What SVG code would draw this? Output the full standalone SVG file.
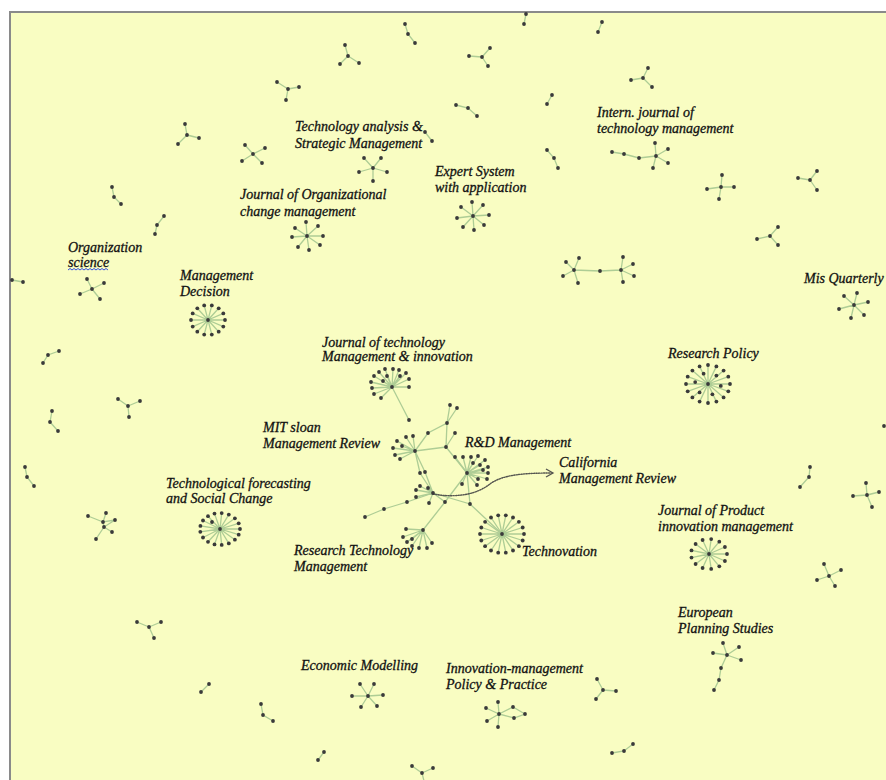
<svg xmlns="http://www.w3.org/2000/svg" xmlns:xlink="http://www.w3.org/1999/xlink" width="886" height="780" viewBox="0 0 886 780">
<style>
.e{stroke:#a6c891;stroke-width:1.3;fill:none;stroke-linecap:round;opacity:.9}
.n{fill:#3a3a3a}
.t{font-family:"Liberation Serif","Times New Roman",serif;font-style:italic;font-size:14px;fill:#111;stroke:#111;stroke-width:0.3}
.dot{stroke:#444;stroke-width:1.4;fill:none;stroke-dasharray:1.2 1.3;opacity:1}
</style>
<defs>
<circle id="d" r="1.9"/>
<marker id="arr" markerWidth="10" markerHeight="10" refX="8" refY="5" orient="auto" markerUnits="userSpaceOnUse"><path d="M1,1 L8,5 L1,9" fill="none" stroke="#444" stroke-width="1.3"/></marker>
</defs>
<rect width="886" height="780" fill="#fff"/>
<rect x="10" y="12" width="876" height="768" fill="#f9fdc2"/>
<path d="M10,780 V12 H886" fill="none" stroke="#8a8a8a" stroke-width="2"/>

<g id="connectors" class="e">
<path d="M288,89 L277,82 M288,89 L299,87 M288,89 L286,100"/>
<path d="M187,135 L185,124 M187,135 L199,138 M187,135 L178,144"/>
<path d="M253,154 L245,145 M253,154 L265,148 M253,154 L242,161 M253,154 L262,163"/>
<path d="M112,187 L114,197 L121,204"/>
<path d="M164,216 L157,225 L155,234"/>
<path d="M405,24 L408,34 L415,43"/>
<path d="M348,56 L345,45 M348,56 L340,64 M348,56 L359,63"/>
<path d="M482,57 L490,48 M482,57 L469,56 M482,57 L488,66"/>
<path d="M526,14 L524,24"/>
<path d="M456,105 L468,108 L477,116"/>
<path d="M552,95 L547,104"/>
<path d="M425,132 L432,141"/>
<path d="M547,150 L554,158 L558,168"/>
<path d="M373,168 L364,158 M373,168 L381,158 M373,168 L359,172 M373,168 L387,172 M373,168 L373,181"/>
<path d="M473,216 L472,202 M473,216 L483,205 M473,216 L461,207 M473,216 L489,215 M473,216 L457,218 M473,216 L484,225 M473,216 L463,227 M473,216 L474,230"/>
<path d="M307,236 L306,222 M307,236 L318,226 M307,236 L295,228 M307,236 L323,236 M307,236 L292,237 M307,236 L320,245 M307,236 L298,247 M307,236 L309,250"/>
<path d="M602,22 L598,32"/>
<path d="M643,78 L648,68 M643,78 L631,80 M643,78 L652,87"/>
<path d="M612,152 L624,154 L639,158 L656,156 M656,156 L655,143 M656,156 L668,149 M656,156 L668,163 M656,156 L653,168"/>
<path d="M721,187 L722,175 M721,187 L707,189 M721,187 L734,187 M721,187 L719,199"/>
<path d="M810,180 L817,171 M810,180 L798,178 M810,180 L817,190"/>
<path d="M770,236 L778,227 M770,236 L757,239 M770,236 L778,245"/>
<path d="M574,270 L579,258 M574,270 L566,262 M574,270 L563,276 M574,270 L578,283 M574,270 L600,271 L621,270 M621,270 L623,257 M621,270 L633,264 M621,270 L634,276 M621,270 L623,282"/>
<path d="M12,280 L23,282"/>
<path d="M92,289 L87,279 M92,289 L104,283 M92,289 L80,294 M92,289 L100,299"/>
<path d="M208,320 L225,320 M208,320 L223.3,326.6 M208,320 L218.7,331.7 M208,320 L211.8,334.6 M208,320 L204.2,334.6 M208,320 L197.3,331.7 M208,320 L192.7,326.6 M208,320 L191,320 M208,320 L192.7,313.4 M208,320 L197.3,308.3 M208,320 L204.2,305.4 M208,320 L211.8,305.4 M208,320 L218.7,308.3 M208,320 L223.3,313.4"/>
<path d="M59,351 L48,355 L43,363"/>
<path d="M128,406 L118,399 M128,406 L140,401 M128,406 L129,417"/>
<path d="M52,411 L50,422 L58,431"/>
<path d="M25,467 L27,477 L34,486"/>
<path d="M854,305 L844,296 M854,305 L857,293 M854,305 L868,302 M854,305 L839,309 M854,305 L864,315 M854,305 L851,318"/>
<path d="M708,384 L730,384 M708,384 L728.3,391.3 M708,384 L723.6,397.4 M708,384 L716.4,401.6 M708,384 L708,403 M708,384 L699.6,401.6 M708,384 L692.4,397.4 M708,384 L687.7,391.3 M708,384 L686,384 M708,384 L687.7,376.7 M708,384 L692.4,370.6 M708,384 L699.6,366.4 M708,384 L708,365 M708,384 L716.4,366.4 M708,384 L723.6,370.6 M708,384 L728.3,376.7"/>
<path d="M810,467 L809,477 L800,487"/>
<path d="M867,495 L866,483 M867,495 L879,492 M867,495 L853,496 M867,495 L872,507"/>
<path d="M88,516 L103,522 M106,513 L103,522 L115,520 L104,527 L103,522 M104,527 L112,532 M104,527 L96,539"/>
<path d="M220,529 L240,529 M220,529 L238.7,534.7 M220,529 L234.9,539.7 M220,529 L228.8,543.4 M220,529 L221.7,544.9 M220,529 L214.5,544.4 M220,529 L208,541.8 M220,529 L203,537.5 M220,529 L200.3,531.8 M220,529 L200.4,525.9 M220,529 L203,520.5 M220,529 L208,516.2 M220,529 L214.5,513.6 M220,529 L221.7,513.1 M220,529 L228.8,514.6 M220,529 L234.9,518.3 M220,529 L238.7,523.3"/>
<path d="M149,627 L137,622 M149,627 L161,622 M149,627 L154,638"/>
<path d="M209,684 L201,692"/>
<path d="M261,704 L263,715 L273,721"/>
<path d="M368,696 L360,684 M368,696 L374,684 M368,696 L352,696 M368,696 L383,695 M368,696 L361,707 M368,696 L377,706"/>
<path d="M499,714 L498,702 M499,714 L486,708 M499,714 L487,721 M499,714 L498,727 M499,714 L513,707 L525,714 L514,718 L499,714"/>
<path d="M324,752 L318,760"/>
<path d="M422,773 L412,766 M422,773 L433,768 M422,773 L424,781"/>
<path d="M603,690 L597,679 M603,690 L616,691 M603,690 L596,699"/>
<path d="M633,744 L624,751 L612,753"/>
<path d="M709,554 L727,554 M709,554 L724.9,561 M709,554 L719.3,566.3 M709,554 L711.2,568.9 M709,554 L702.6,568 M709,554 L695.6,564 M709,554 L691.5,557.6 M709,554 L691.5,550.4 M709,554 L695.6,544 M709,554 L702.6,540 M709,554 L711.2,539.1 M709,554 L719.3,541.7 M709,554 L724.9,547"/>
<path d="M829,576 L824,564 M829,576 L841,570 M829,576 L817,580 M829,576 L835,586"/>
<path d="M727,655 L723,643 M727,655 L739,647 M727,655 L713,653 M727,655 L741,660 M727,655 L721,668 L719,680 L714,690"/>
<path d="M392,387 L374,376 M392,387 L379,372 M392,387 L385,369 M392,387 L393,369 M392,387 L399,370 M392,387 L406,373 M392,387 L409,379 M392,387 L409,387 M392,387 L371,382 M392,387 L372,388 M392,387 L374,394 M392,387 L381,398 M392,387 L387,376 M392,387 L400,376 M392,387 L383,381 M392,387 L409,420"/>
<path d="M415,451 L397,441 M415,451 L406,437 M415,451 L413,436 M415,451 L393,448 M415,451 L395,455 M415,451 L400,459 M415,451 L402,446"/>
<path d="M415,451 L428,433 L447,423 L450,405 M447,423 L457,408 M447,423 L446,447 L455,433 M415,451 L446,447 L467,473"/>
<path d="M415,451 L420,473 L433,493 M415,451 L425,472 L433,493"/>
<path d="M467,473 L455,457 M467,473 L463,457 M467,473 L471,457 M467,473 L478,456 M467,473 L485,460 M467,473 L488,467 M467,473 L483,470 M467,473 L488,473 M467,473 L487,479 M467,473 L478,479 M467,473 L462,484 M467,473 L477,485 M467,473 L473,463 M467,473 L480,465"/>
<path d="M433,493 L420,486 M433,493 L416,490 M433,493 L416,497 M433,493 L429,503 M433,493 L428,488"/>
<path d="M433,493 L407,502 L384,509 L365,517"/>
<path d="M433,493 L445,502 M467,473 L445,502 L423,530 M433,493 L470,504 L502,534 M467,473 L470,504"/>
<path d="M423,530 L406,529 M423,530 L403,537 M423,530 L407,542 M423,530 L412,546 M423,530 L419,548 M423,530 L427,548 M423,530 L432,543 M423,530 L412,539"/>
<path d="M502,534 L524,534 M502,534 L522.7,540.5 M502,534 L518.9,546.2 M502,534 L513,550.5 M502,534 L505.8,552.7 M502,534 L498.2,552.7 M502,534 L491,550.5 M502,534 L485.1,546.2 M502,534 L481.3,540.5 M502,534 L480,534 M502,534 L481.3,527.5 M502,534 L485.1,521.8 M502,534 L491,517.5 M502,534 L498.2,515.3 M502,534 L505.8,515.3 M502,534 L513,517.5 M502,534 L518.9,521.8 M502,534 L522.7,527.5"/>
<path class="dot" d="M433,494 C455,498 476,495 490,484 C502,475 522,473 553,473" marker-end="url(#arr)"/>
</g>

<g id="node-misc" class="n">
<use href="#d" x="277" y="82"/><use href="#d" x="288" y="89"/><use href="#d" x="299" y="87"/><use href="#d" x="286" y="100"/>
<use href="#d" x="185" y="124"/><use href="#d" x="187" y="135"/><use href="#d" x="199" y="138"/><use href="#d" x="178" y="144"/>
<use href="#d" x="253" y="154"/><use href="#d" x="245" y="145"/><use href="#d" x="265" y="148"/><use href="#d" x="242" y="161"/><use href="#d" x="262" y="163"/>
<use href="#d" x="112" y="187"/><use href="#d" x="114" y="197"/><use href="#d" x="121" y="204"/>
<use href="#d" x="164" y="216"/><use href="#d" x="157" y="225"/><use href="#d" x="155" y="234"/>
<use href="#d" x="405" y="24"/><use href="#d" x="408" y="34"/><use href="#d" x="415" y="43"/>
<use href="#d" x="348" y="56"/><use href="#d" x="345" y="45"/><use href="#d" x="340" y="64"/><use href="#d" x="359" y="63"/>
<use href="#d" x="482" y="57"/><use href="#d" x="490" y="48"/><use href="#d" x="469" y="56"/><use href="#d" x="488" y="66"/>
<use href="#d" x="526" y="14"/><use href="#d" x="524" y="24"/>
<use href="#d" x="456" y="105"/><use href="#d" x="468" y="108"/><use href="#d" x="477" y="116"/>
<use href="#d" x="552" y="95"/><use href="#d" x="547" y="104"/>
<use href="#d" x="425" y="132"/><use href="#d" x="432" y="141"/>
<use href="#d" x="547" y="150"/><use href="#d" x="554" y="158"/><use href="#d" x="558" y="168"/>
<use href="#d" x="602" y="22"/><use href="#d" x="598" y="32"/>
<use href="#d" x="643" y="78"/><use href="#d" x="648" y="68"/><use href="#d" x="631" y="80"/><use href="#d" x="652" y="87"/>
<use href="#d" x="721" y="187"/><use href="#d" x="722" y="175"/><use href="#d" x="707" y="189"/><use href="#d" x="734" y="187"/><use href="#d" x="719" y="199"/>
<use href="#d" x="810" y="180"/><use href="#d" x="817" y="171"/><use href="#d" x="798" y="178"/><use href="#d" x="817" y="190"/>
<use href="#d" x="770" y="236"/><use href="#d" x="778" y="227"/><use href="#d" x="757" y="239"/><use href="#d" x="778" y="245"/>
<use href="#d" x="574" y="270"/><use href="#d" x="579" y="258"/><use href="#d" x="566" y="262"/><use href="#d" x="563" y="276"/><use href="#d" x="578" y="283"/><use href="#d" x="600" y="271"/><use href="#d" x="621" y="270"/><use href="#d" x="623" y="257"/><use href="#d" x="633" y="264"/><use href="#d" x="634" y="276"/><use href="#d" x="623" y="282"/>
<use href="#d" x="12" y="280"/><use href="#d" x="23" y="282"/>
<use href="#d" x="59" y="351"/><use href="#d" x="48" y="355"/><use href="#d" x="43" y="363"/>
<use href="#d" x="128" y="406"/><use href="#d" x="118" y="399"/><use href="#d" x="140" y="401"/><use href="#d" x="129" y="417"/>
<use href="#d" x="52" y="411"/><use href="#d" x="50" y="422"/><use href="#d" x="58" y="431"/>
<use href="#d" x="25" y="467"/><use href="#d" x="27" y="477"/><use href="#d" x="34" y="486"/>
<use href="#d" x="884" y="426"/>
<use href="#d" x="810" y="467"/><use href="#d" x="809" y="477"/><use href="#d" x="800" y="487"/>
<use href="#d" x="867" y="495"/><use href="#d" x="866" y="483"/><use href="#d" x="879" y="492"/><use href="#d" x="853" y="496"/><use href="#d" x="872" y="507"/>
<use href="#d" x="88" y="516"/><use href="#d" x="106" y="513"/><use href="#d" x="103" y="522"/><use href="#d" x="115" y="520"/><use href="#d" x="104" y="527"/><use href="#d" x="112" y="532"/><use href="#d" x="96" y="539"/>
<use href="#d" x="149" y="627"/><use href="#d" x="137" y="622"/><use href="#d" x="161" y="622"/><use href="#d" x="154" y="638"/>
<use href="#d" x="209" y="684"/><use href="#d" x="201" y="692"/>
<use href="#d" x="261" y="704"/><use href="#d" x="263" y="715"/><use href="#d" x="273" y="721"/>
<use href="#d" x="324" y="752"/><use href="#d" x="318" y="760"/>
<use href="#d" x="422" y="773"/><use href="#d" x="412" y="766"/><use href="#d" x="433" y="768"/>
<use href="#d" x="603" y="690"/><use href="#d" x="597" y="679"/><use href="#d" x="616" y="691"/><use href="#d" x="596" y="699"/>
<use href="#d" x="633" y="744"/><use href="#d" x="624" y="751"/><use href="#d" x="612" y="753"/>
<use href="#d" x="829" y="576"/><use href="#d" x="824" y="564"/><use href="#d" x="841" y="570"/><use href="#d" x="817" y="580"/><use href="#d" x="835" y="586"/>
</g>

<g id="tasm">
<g class="n"><use href="#d" x="373" y="168"/><use href="#d" x="364" y="158"/><use href="#d" x="381" y="158"/><use href="#d" x="359" y="172"/><use href="#d" x="387" y="172"/><use href="#d" x="373" y="181"/></g>
<text class="t" x="295" y="131">Technology analysis &amp;</text><text class="t" x="295" y="148">Strategic Management</text>
</g>
<g id="expert">
<g class="n"><use href="#d" x="473" y="216"/><use href="#d" x="472" y="202"/><use href="#d" x="483" y="205"/><use href="#d" x="461" y="207"/><use href="#d" x="489" y="215"/><use href="#d" x="457" y="218"/><use href="#d" x="484" y="225"/><use href="#d" x="463" y="227"/><use href="#d" x="474" y="230"/></g>
<text class="t" x="435" y="176">Expert System</text><text class="t" x="435" y="192">with application</text>
</g>
<g id="jocm">
<g class="n"><use href="#d" x="307" y="236"/><use href="#d" x="306" y="222"/><use href="#d" x="318" y="226"/><use href="#d" x="295" y="228"/><use href="#d" x="323" y="236"/><use href="#d" x="292" y="237"/><use href="#d" x="320" y="245"/><use href="#d" x="298" y="247"/><use href="#d" x="309" y="250"/></g>
<text class="t" x="240" y="199">Journal of Organizational</text><text class="t" x="240" y="216">change management</text>
</g>
<g id="ijtm">
<g class="n"><use href="#d" x="612" y="152"/><use href="#d" x="624" y="154"/><use href="#d" x="639" y="158"/><use href="#d" x="656" y="156"/><use href="#d" x="655" y="143"/><use href="#d" x="668" y="149"/><use href="#d" x="668" y="163"/><use href="#d" x="653" y="168"/></g>
<text class="t" x="597" y="117">Intern. journal of</text><text class="t" x="597" y="133">technology management</text>
</g>
<g id="orgsci">
<g class="n"><use href="#d" x="92" y="289"/><use href="#d" x="87" y="279"/><use href="#d" x="104" y="283"/><use href="#d" x="80" y="294"/><use href="#d" x="100" y="299"/></g>
<text class="t" x="68" y="252">Organization</text><text class="t" x="68" y="267">science</text>
<path d="M68,270 l2,-1.5 2,1.5 2,-1.5 2,1.5 2,-1.5 2,1.5 2,-1.5 2,1.5 2,-1.5 2,1.5 2,-1.5 2,1.5 2,-1.5 2,1.5 2,-1.5 2,1.5 2,-1.5 2,1.5 2,-1.5 2,1.5" fill="none" stroke="#3050e0" stroke-width="1"/>
</g>
<g id="md">
<g class="n"><use href="#d" x="208" y="320"/><use href="#d" x="225" y="320"/><use href="#d" x="223.3" y="326.6"/><use href="#d" x="218.7" y="331.7"/><use href="#d" x="211.8" y="334.6"/><use href="#d" x="204.2" y="334.6"/><use href="#d" x="197.3" y="331.7"/><use href="#d" x="192.7" y="326.6"/><use href="#d" x="191" y="320"/><use href="#d" x="192.7" y="313.4"/><use href="#d" x="197.3" y="308.3"/><use href="#d" x="204.2" y="305.4"/><use href="#d" x="211.8" y="305.4"/><use href="#d" x="218.7" y="308.3"/><use href="#d" x="223.3" y="313.4"/></g>
<text class="t" x="180" y="280">Management</text><text class="t" x="180" y="296">Decision</text>
</g>
<g id="misq">
<g class="n"><use href="#d" x="854" y="305"/><use href="#d" x="844" y="296"/><use href="#d" x="857" y="293"/><use href="#d" x="868" y="302"/><use href="#d" x="839" y="309"/><use href="#d" x="864" y="315"/><use href="#d" x="851" y="318"/></g>
<text class="t" x="804" y="283">Mis Quarterly</text>
</g>
<g id="rp">
<g class="n"><use href="#d" x="708" y="384"/><use href="#d" x="730" y="384"/><use href="#d" x="728.3" y="391.3"/><use href="#d" x="723.6" y="397.4"/><use href="#d" x="716.4" y="401.6"/><use href="#d" x="708" y="403"/><use href="#d" x="699.6" y="401.6"/><use href="#d" x="692.4" y="397.4"/><use href="#d" x="687.7" y="391.3"/><use href="#d" x="686" y="384"/><use href="#d" x="687.7" y="376.7"/><use href="#d" x="692.4" y="370.6"/><use href="#d" x="699.6" y="366.4"/><use href="#d" x="708" y="365"/><use href="#d" x="716.4" y="366.4"/><use href="#d" x="723.6" y="370.6"/><use href="#d" x="728.3" y="376.7"/><use href="#d" x="720.8" y="385.9"/><use href="#d" x="712.4" y="394.3"/><use href="#d" x="699.6" y="392.4"/><use href="#d" x="695.2" y="382.1"/><use href="#d" x="703.6" y="373.7"/><use href="#d" x="716.4" y="375.6"/></g>
<text class="t" x="668" y="358">Research Policy</text>
</g>
<g id="tf">
<g class="n"><use href="#d" x="220" y="529"/><use href="#d" x="240" y="529"/><use href="#d" x="238.7" y="534.7"/><use href="#d" x="234.9" y="539.7"/><use href="#d" x="228.8" y="543.4"/><use href="#d" x="221.7" y="544.9"/><use href="#d" x="214.5" y="544.4"/><use href="#d" x="208" y="541.8"/><use href="#d" x="203" y="537.5"/><use href="#d" x="200.3" y="531.8"/><use href="#d" x="200.4" y="525.9"/><use href="#d" x="203" y="520.5"/><use href="#d" x="208" y="516.2"/><use href="#d" x="214.5" y="513.6"/><use href="#d" x="221.7" y="513.1"/><use href="#d" x="228.8" y="514.6"/><use href="#d" x="234.9" y="518.3"/><use href="#d" x="238.7" y="523.3"/><use href="#d" x="212" y="522"/></g>
<text class="t" x="166" y="488">Technological forecasting</text><text class="t" x="166" y="503">and Social Change</text>
</g>
<g id="econ">
<g class="n"><use href="#d" x="368" y="696"/><use href="#d" x="360" y="684"/><use href="#d" x="374" y="684"/><use href="#d" x="352" y="696"/><use href="#d" x="383" y="695"/><use href="#d" x="361" y="707"/><use href="#d" x="377" y="706"/></g>
<text class="t" x="301" y="670">Economic Modelling</text>
</g>
<g id="impp">
<g class="n"><use href="#d" x="499" y="714"/><use href="#d" x="498" y="702"/><use href="#d" x="486" y="708"/><use href="#d" x="487" y="721"/><use href="#d" x="498" y="727"/><use href="#d" x="513" y="707"/><use href="#d" x="514" y="718"/><use href="#d" x="525" y="714"/></g>
<text class="t" x="446" y="673">Innovation-management</text><text class="t" x="446" y="689">Policy &amp; Practice</text>
</g>
<g id="jpim">
<g class="n"><use href="#d" x="709" y="554"/><use href="#d" x="727" y="554"/><use href="#d" x="724.9" y="561"/><use href="#d" x="719.3" y="566.3"/><use href="#d" x="711.2" y="568.9"/><use href="#d" x="702.6" y="568"/><use href="#d" x="695.6" y="564"/><use href="#d" x="691.5" y="557.6"/><use href="#d" x="691.5" y="550.4"/><use href="#d" x="695.6" y="544"/><use href="#d" x="702.6" y="540"/><use href="#d" x="711.2" y="539.1"/><use href="#d" x="719.3" y="541.7"/><use href="#d" x="724.9" y="547"/></g>
<text class="t" x="658" y="515">Journal of Product</text><text class="t" x="658" y="531">innovation management</text>
</g>
<g id="eps">
<g class="n"><use href="#d" x="727" y="655"/><use href="#d" x="723" y="643"/><use href="#d" x="739" y="647"/><use href="#d" x="713" y="653"/><use href="#d" x="741" y="660"/><use href="#d" x="721" y="668"/><use href="#d" x="719" y="680"/><use href="#d" x="714" y="690"/></g>
<text class="t" x="678" y="617">European</text><text class="t" x="678" y="633">Planning Studies</text>
</g>
<g id="jtmi">
<g class="n"><use href="#d" x="392" y="387"/><use href="#d" x="374" y="376"/><use href="#d" x="379" y="372"/><use href="#d" x="385" y="369"/><use href="#d" x="393" y="369"/><use href="#d" x="399" y="370"/><use href="#d" x="406" y="373"/><use href="#d" x="409" y="379"/><use href="#d" x="409" y="387"/><use href="#d" x="371" y="382"/><use href="#d" x="372" y="388"/><use href="#d" x="374" y="394"/><use href="#d" x="381" y="398"/><use href="#d" x="387" y="376"/><use href="#d" x="400" y="376"/><use href="#d" x="383" y="381"/><use href="#d" x="409" y="420"/></g>
<text class="t" x="322" y="347">Journal of technology</text><text class="t" x="322" y="361">Management &amp; innovation</text>
</g>
<g id="mit">
<g class="n"><use href="#d" x="415" y="451"/><use href="#d" x="397" y="441"/><use href="#d" x="406" y="437"/><use href="#d" x="413" y="436"/><use href="#d" x="393" y="448"/><use href="#d" x="395" y="455"/><use href="#d" x="400" y="459"/><use href="#d" x="402" y="446"/><use href="#d" x="428" y="433"/><use href="#d" x="447" y="423"/><use href="#d" x="450" y="405"/><use href="#d" x="457" y="408"/><use href="#d" x="446" y="447"/><use href="#d" x="455" y="433"/><use href="#d" x="420" y="473"/><use href="#d" x="425" y="472"/></g>
<text class="t" x="263" y="432">MIT sloan</text><text class="t" x="263" y="448">Management Review</text>
</g>
<g id="rd">
<g class="n"><use href="#d" x="467" y="473"/><use href="#d" x="455" y="457"/><use href="#d" x="463" y="457"/><use href="#d" x="471" y="457"/><use href="#d" x="478" y="456"/><use href="#d" x="485" y="460"/><use href="#d" x="488" y="467"/><use href="#d" x="483" y="470"/><use href="#d" x="488" y="473"/><use href="#d" x="487" y="479"/><use href="#d" x="478" y="479"/><use href="#d" x="462" y="484"/><use href="#d" x="477" y="485"/><use href="#d" x="473" y="463"/><use href="#d" x="480" y="465"/></g>
<text class="t" x="465" y="447">R&amp;D Management</text>
</g>
<g id="hub">
<g class="n"><use href="#d" x="433" y="493"/><use href="#d" x="420" y="486"/><use href="#d" x="416" y="490"/><use href="#d" x="416" y="497"/><use href="#d" x="429" y="503"/><use href="#d" x="428" y="488"/><use href="#d" x="407" y="502"/><use href="#d" x="384" y="509"/><use href="#d" x="365" y="517"/><use href="#d" x="445" y="502"/><use href="#d" x="470" y="504"/></g>
</g>
<g id="california">
<text class="t" x="559" y="467">California</text><text class="t" x="559" y="483">Management Review</text>
</g>
<g id="rtm">
<g class="n"><use href="#d" x="423" y="530"/><use href="#d" x="406" y="529"/><use href="#d" x="403" y="537"/><use href="#d" x="407" y="542"/><use href="#d" x="412" y="546"/><use href="#d" x="419" y="548"/><use href="#d" x="427" y="548"/><use href="#d" x="432" y="543"/><use href="#d" x="412" y="539"/></g>
<text class="t" x="294" y="555">Research Technology</text><text class="t" x="294" y="571">Management</text>
</g>
<g id="technovation">
<g class="n"><use href="#d" x="502" y="534"/><use href="#d" x="524" y="534"/><use href="#d" x="522.7" y="540.5"/><use href="#d" x="518.9" y="546.2"/><use href="#d" x="513" y="550.5"/><use href="#d" x="505.8" y="552.7"/><use href="#d" x="498.2" y="552.7"/><use href="#d" x="491" y="550.5"/><use href="#d" x="485.1" y="546.2"/><use href="#d" x="481.3" y="540.5"/><use href="#d" x="480" y="534"/><use href="#d" x="481.3" y="527.5"/><use href="#d" x="485.1" y="521.8"/><use href="#d" x="491" y="517.5"/><use href="#d" x="498.2" y="515.3"/><use href="#d" x="505.8" y="515.3"/><use href="#d" x="513" y="517.5"/><use href="#d" x="518.9" y="521.8"/><use href="#d" x="522.7" y="527.5"/></g>
<text class="t" x="522" y="556">Technovation</text>
</g>
</svg>
